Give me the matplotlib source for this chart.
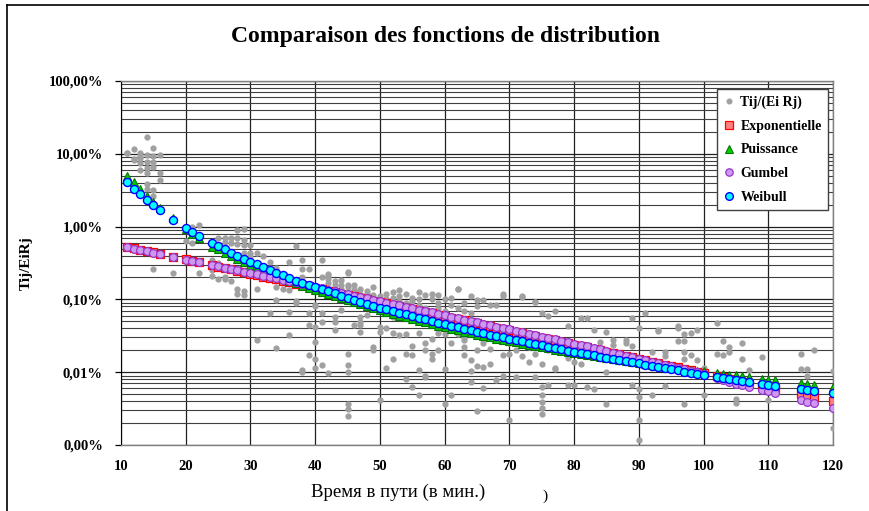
import matplotlib.pyplot as plt
from matplotlib.lines import Line2D
from matplotlib.ticker import FixedLocator, LogLocator, FuncFormatter, NullFormatter

# Durées (min) pour les courbes modèles
temps = [11, 12, 13, 14, 15, 16, 18, 20, 21, 22] + list(range(24, 101)) + \
        [102, 103, 104, 105, 106, 107, 109, 110, 111, 115, 116, 117, 120]

# Valeurs en %
exponentielle = [
    0.530, 0.506, 0.484, 0.463, 0.443, 0.423, 0.387, 0.354, 0.338, 0.323,
    0.295, 0.282, 0.270, 0.258, 0.247, 0.236, 0.226, 0.216, 0.206, 0.197,
    0.189, 0.180, 0.172, 0.165, 0.158, 0.151, 0.144, 0.138, 0.132, 0.126,
    0.120, 0.115, 0.110, 0.105, 0.101, 0.0962, 0.0919, 0.0879, 0.0840, 0.0804,
    0.0768, 0.0735, 0.0702, 0.0671, 0.0642, 0.0614, 0.0587, 0.0561, 0.0536, 0.0513,
    0.0490, 0.0469, 0.0448, 0.0429, 0.0410, 0.0392, 0.0375, 0.0358, 0.0342, 0.0327,
    0.0313, 0.0299, 0.0286, 0.0274, 0.0262, 0.0250, 0.0239, 0.0229, 0.0219, 0.0209,
    0.0200, 0.0191, 0.0183, 0.0175, 0.0167, 0.0160, 0.0153, 0.0146, 0.0139, 0.0133,
    0.0127, 0.0122, 0.0117, 0.0111, 0.0107, 0.0102, 0.00974,
    0.00890, 0.00851, 0.00814, 0.00778, 0.00744, 0.00711, 0.00650, 0.00622, 0.00594,
    0.00497, 0.00475, 0.00454, 0.00397]

puissance = [
    5.00, 4.10, 3.30, 2.62, 2.17, 1.80, 1.32, 0.92, 0.79, 0.69,
    0.53, 0.49, 0.44, 0.395, 0.355, 0.325, 0.297, 0.272, 0.250, 0.230,
    0.212, 0.195, 0.180, 0.166, 0.154, 0.144, 0.135, 0.1256, 0.1175, 0.110,
    0.1031, 0.0968, 0.0910, 0.0857, 0.0809, 0.0763, 0.0721, 0.0675, 0.0636, 0.0600,
    0.0567, 0.0536, 0.0507, 0.0482, 0.0458, 0.0434, 0.0413, 0.0393, 0.0375, 0.0359,
    0.0343, 0.0329, 0.0314, 0.0302, 0.0290, 0.0278, 0.0267, 0.0257, 0.0247, 0.0238,
    0.0228, 0.0220, 0.0212, 0.0204, 0.0197, 0.0190, 0.0183, 0.0178, 0.0171, 0.0165,
    0.0161, 0.0155, 0.0150, 0.0145, 0.0141, 0.0136, 0.0132, 0.0129, 0.0125, 0.0122,
    0.0119, 0.0116, 0.0113, 0.0111, 0.0108, 0.0105, 0.0104,
    0.00980, 0.00953, 0.00928, 0.00903, 0.00879, 0.00857, 0.00813, 0.00793, 0.00773,
    0.00700, 0.00683, 0.00667, 0.00621]

gumbel = [
    0.520, 0.497, 0.475, 0.455, 0.436, 0.417, 0.383, 0.352, 0.338, 0.324,
    0.297, 0.285, 0.273, 0.262, 0.251, 0.241, 0.231, 0.221, 0.212, 0.203,
    0.195, 0.187, 0.179, 0.172, 0.165, 0.158, 0.148, 0.142, 0.136, 0.130,
    0.124, 0.118, 0.113, 0.108, 0.104, 0.0991, 0.0947, 0.0905, 0.0865, 0.0828,
    0.0791, 0.0757, 0.0723, 0.0691, 0.0661, 0.0632, 0.0605, 0.0578, 0.0552, 0.0528,
    0.0505, 0.0483, 0.0461, 0.0442, 0.0422, 0.0404, 0.0386, 0.0369, 0.0352, 0.0337,
    0.0322, 0.0308, 0.0295, 0.0282, 0.0270, 0.0258, 0.0246, 0.0236, 0.0226, 0.0215,
    0.0206, 0.0197, 0.0183, 0.0175, 0.0167, 0.0160, 0.0152, 0.0145, 0.0138, 0.0132,
    0.0126, 0.0120, 0.0115, 0.0109, 0.0104, 0.00995, 0.00950,
    0.00840, 0.00790, 0.00740, 0.00690, 0.00660, 0.00630, 0.00570, 0.00545, 0.00520,
    0.00420, 0.00395, 0.00372, 0.00326]

weibull = [
    4.07, 3.30, 2.77, 2.30, 1.95, 1.67, 1.24, 0.96, 0.84, 0.74,
    0.60, 0.54, 0.49, 0.44, 0.40, 0.362, 0.330, 0.302, 0.276, 0.253,
    0.232, 0.213, 0.196, 0.180, 0.166, 0.156, 0.147, 0.138, 0.129, 0.121,
    0.113, 0.106, 0.0995, 0.0933, 0.0874, 0.0820, 0.0770, 0.0730, 0.0692, 0.0656,
    0.0622, 0.0590, 0.0560, 0.0531, 0.0504, 0.0478, 0.0454, 0.0434, 0.0414, 0.0396,
    0.0378, 0.0361, 0.0345, 0.0329, 0.0314, 0.0300, 0.0287, 0.0275, 0.0264, 0.0253,
    0.0243, 0.0233, 0.0223, 0.0214, 0.0205, 0.0197, 0.0189, 0.0182, 0.0176, 0.0170,
    0.0164, 0.0158, 0.0153, 0.0147, 0.0142, 0.0137, 0.0132, 0.0127, 0.0123, 0.0118,
    0.0114, 0.0110, 0.0106, 0.0102, 0.00987, 0.00951, 0.00917,
    0.00865, 0.00840, 0.00815, 0.00790, 0.00765, 0.00740, 0.00695, 0.00675, 0.00655,
    0.00590, 0.00573, 0.00558, 0.00512]

# Observations Tij/(Ei Rj), en %
obs_x = (
    [11, 11] + [12] * 3 + [13] * 5 + [14] * 7 + [15] * 7 + [16] * 3 + [18, 20] +
    [21] * 2 + [22] * 2 + [24] * 3 + [25] * 3 + [26] * 4 + [27] * 3 + [28] * 5 +
    [29] * 6 + [30] * 3 + [31] * 3 + [32] + [33] * 2 + [34] * 4 + [35] + [36] * 4 +
    [37] * 3 + [38] * 5 + [39] * 4 + [40] * 6 + [41] * 5 + [42] * 5 + [43] * 5 +
    [44] * 4 + [45] * 10 + [46] * 4 + [47] * 7 + [48] * 4 + [49] * 4 + [50] * 5 +
    [51] * 4 + [52] * 5 + [53] * 5 + [54] * 5 + [55] * 5 + [56] * 6 + [57] * 6 +
    [58] * 5 + [59] * 5 + [60] * 5 + [61] * 5 + [62] * 4 + [63] * 6 + [64] * 5 +
    [65] * 5 + [66] * 4 + [67] * 3 + [68] * 3 + [69] * 4 + [70] * 3 + [71] * 2 +
    [72] * 4 + [73] * 2 + [74] * 4 + [75] * 7 + [76] * 3 + [77] * 3 + [79] * 3 +
    [80] * 2 + [81] * 2 + [82] * 2 + [83] * 2 + [84] + [85] * 3 + [86] * 2 +
    [88] * 2 + [89] * 3 + [90] * 5 + [91] + [92] * 2 + [93] * 2 + [94] * 3 +
    [96] * 3 + [97] * 5 + [98] * 2 + [99] * 2 + [100] * 2 + [102] * 2 + [103] * 2 +
    [104] * 2 + [105] * 2 + [106] * 2 + [107, 109, 110] + [115] * 2 + [116] * 2 +
    [117] + [120] * 2
)
obs_y = [
    10.4, 10.2,
    11.5, 8.4, 8.2,
    10.4, 9.2, 7.4, 5.9, 8.7,
    16.9, 9.6, 7.6, 6.3, 5.5, 3.85, 3.25,
    11.9, 9.2, 7.6, 6.5, 3.2, 2.6, 0.26,
    9.5, 5.4, 4.4,
    0.23, 0.64,
    1.0, 0.6,
    1.04, 0.23,
    0.35, 0.25, 0.21,
    0.69, 0.32, 0.19,
    0.70, 0.62, 0.19, 0.20,
    0.69, 0.60, 0.18,
    0.90, 0.69, 0.58, 0.14, 0.12,
    0.94, 0.66, 0.55, 0.44, 0.13, 0.115,
    0.55, 0.44, 0.39,
    0.44, 0.14, 0.0277,
    0.39,
    0.33, 0.066,
    0.27, 0.15, 0.098, 0.0213,
    0.14,
    0.33, 0.134, 0.067, 0.032,
    0.54, 0.094, 0.09,
    0.35, 0.26, 0.20, 0.0107, 0.0099,
    0.26, 0.064, 0.045, 0.017,
    0.083, 0.042, 0.026, 0.015, 0.0113, 0.08,
    0.35, 0.064, 0.049, 0.0126, 0.20,
    0.22, 0.21, 0.0096, 0.17, 0.19,
    0.058, 0.049, 0.038, 0.16, 0.18,
    0.185, 0.16, 0.071, 0.14,
    0.24, 0.23, 0.0175, 0.0126, 0.0099, 0.0036, 0.0031, 0.0025, 0.16, 0.15,
    0.135, 0.16, 0.045, 0.13,
    0.12, 0.058, 0.045, 0.049, 0.036, 0.14, 0.11,
    0.061, 0.13, 0.12, 0.10,
    0.15, 0.115, 0.022, 0.02,
    0.042, 0.036, 0.0041, 0.11, 0.095,
    0.0113, 0.04, 0.10, 0.12,
    0.127, 0.058, 0.015, 0.034, 0.105,
    0.134, 0.08, 0.032, 0.11, 0.095,
    0.033, 0.0175, 0.008, 0.12, 0.09,
    0.023, 0.094, 0.0063, 0.017, 0.105,
    0.127, 0.034, 0.0048, 0.0108, 0.10, 0.085,
    0.0088, 0.0087, 0.115, 0.075, 0.02, 0.025,
    0.018, 0.029, 0.015, 0.12, 0.10,
    0.115, 0.034, 0.09, 0.075, 0.02,
    0.033, 0.011, 0.0037, 0.10, 0.07,
    0.038, 0.0048, 0.105, 0.085, 0.025,
    0.14, 0.033, 0.138, 0.075,
    0.022, 0.017, 0.09, 0.07, 0.028, 0.03,
    0.0145, 0.0073, 0.0103, 0.11, 0.065,
    0.0029, 0.098, 0.012, 0.08, 0.02,
    0.098, 0.025, 0.0118, 0.006,
    0.084, 0.013, 0.021,
    0.084, 0.031, 0.0079,
    0.11, 0.12, 0.0089, 0.017,
    0.0022, 0.018, 0.025,
    0.0087, 0.02,
    0.108, 0.0165, 0.11, 0.03,
    0.014, 0.022,
    0.093, 0.0087, 0.018, 0.092,
    0.066, 0.0063, 0.0048, 0.0039, 0.0032, 0.0027, 0.0128,
    0.059, 0.0067, 0.02,
    0.07, 0.011, 0.0114,
    0.043, 0.0067, 0.0155,
    0.0067, 0.0137,
    0.055, 0.0128,
    0.055, 0.0063,
    0.038, 0.0058,
    0.026,
    0.036, 0.0037, 0.0101,
    0.028, 0.024,
    0.028, 0.025,
    0.055, 0.0067, 0.023,
    0.04, 0.0058, 0.0046, 0.0022, 0.00117,
    0.065,
    0.0048, 0.019,
    0.038, 0.037,
    0.0065, 0.0167, 0.019,
    0.043, 0.040, 0.027,
    0.033, 0.027, 0.019, 0.015, 0.0037,
    0.034, 0.017,
    0.038, 0.0147,
    0.0113, 0.0048,
    0.048, 0.018,
    0.027, 0.017,
    0.022, 0.019,
    0.0043, 0.0038,
    0.025, 0.015,
    0.0107, 0.016, 0.0042,
    0.018, 0.0111,
    0.0111, 0.0088,
    0.020,
    0.0105, 0.0017,
]

x_ticks = [10, 20, 30, 40, 50, 60, 70, 80, 90, 100, 110, 120]
y_ticks = [0.001, 0.01, 0.1, 1, 10, 100]

serif = 'Liberation Serif'

fig = plt.figure(figsize=(8.69, 5.11), dpi=100)
ax = fig.add_axes([0.1392, 0.1292, 0.8194, 0.7123])

ax.plot(obs_x, obs_y, 'o', ls='none', ms=3.5, color='#a0a0a0', mec='#a0a0a0',
        label='Tij/(Ei Rj)', zorder=3)
ax.plot(temps, exponentielle, 's', ls='none', ms=5.4, mfc='#ff8080', mec='#ff0000',
        mew=0.9, label='Exponentielle', zorder=4)
ax.plot(temps, puissance, '^', ls='none', ms=5.8, mfc='#00cc00', mec='#007a00',
        mew=0.8, label='Puissance', zorder=5)
ax.plot(temps, gumbel, 'o', ls='none', ms=5.6, mfc='#cc99ee', mec='#9933cc',
        mew=0.9, label='Gumbel', zorder=6)
ax.plot(temps, weibull, 'o', ls='none', ms=5.8, mfc='#00ffff', mec='#0000ff',
        mew=1.0, label='Weibull', zorder=7)

ax.set_yscale('log')
ax.set_xlim(10, 120)
ax.set_ylim(0.001, 100)
ax.xaxis.set_major_locator(FixedLocator(x_ticks))
ax.yaxis.set_major_locator(FixedLocator(y_ticks))
ax.yaxis.set_minor_locator(LogLocator(base=10, subs=range(2, 10), numticks=20))
ax.yaxis.set_minor_formatter(NullFormatter())
ax.yaxis.set_major_formatter(FuncFormatter(lambda v, p: f"{v:.2f}%".replace('.', ',')))

ax.grid(True, which='major', axis='both', color='#202020', lw=0.9)
ax.grid(True, which='minor', axis='y', color='#404040', lw=0.8)
ax.set_axisbelow(True)

ax.tick_params(axis='y', which='major', length=4, width=0.9, pad=9, direction='out')
ax.tick_params(axis='y', which='minor', length=0)
ax.tick_params(axis='x', length=0, pad=11)
for lab in ax.get_xticklabels() + ax.get_yticklabels():
    lab.set_fontfamily(serif)
    lab.set_fontweight('bold')
    lab.set_fontsize(10.5)

ax.spines['left'].set_color('#000000')
for s in ['bottom', 'right', 'top']:
    ax.spines[s].set_color('#808080')
    ax.spines[s].set_linewidth(1.0)

ax.set_ylabel('Tij/EiRj', family=serif, fontweight='bold', fontsize=11, labelpad=11)

leg = ax.legend(loc='upper right', bbox_to_anchor=(0.993, 0.978), borderaxespad=0,
                prop={'family': serif, 'weight': 'bold', 'size': 10},
                fancybox=False, framealpha=1, edgecolor='#404040',
                handlelength=0.8, handletextpad=0.4, labelspacing=0.78,
                borderpad=0.45, markerscale=0.95)
leg.get_frame().set_linewidth(1.0)

fig.text(0.513, 0.928, 'Comparaison des fonctions de distribution', family=serif,
         fontweight='bold', fontsize=17, ha='center', va='center')
fig.text(0.458, 0.037, 'Время в пути (в мин.)', family=serif, fontsize=13.5,
         ha='center', va='center')
fig.text(0.627, 0.029, ')', family=serif, fontsize=11, ha='center', va='center')

# cadre du graphique (haut et gauche visibles)
fig.add_artist(Line2D([0.008, 0.008], [0.0, 0.990], color='black', lw=1.2,
                      transform=fig.transFigure))
fig.add_artist(Line2D([0.008, 1.0], [0.990, 0.990], color='black', lw=1.2,
                      transform=fig.transFigure))

fig.savefig('out.png', dpi=100)
